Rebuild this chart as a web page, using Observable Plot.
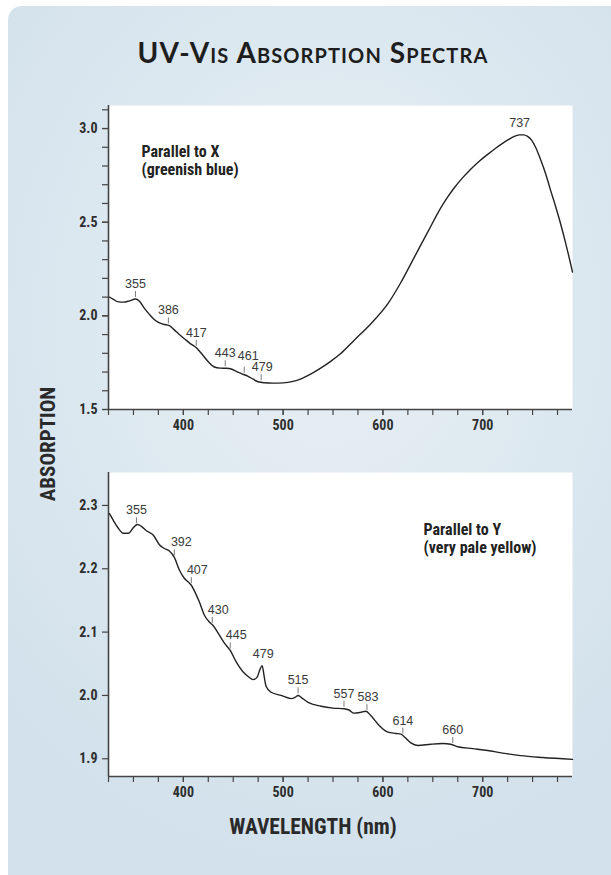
<!DOCTYPE html>
<html>
<head>
<meta charset="utf-8">
<script src="https://cdn.jsdelivr.net/npm/d3@7"></script>
<script src="https://cdn.jsdelivr.net/npm/@observablehq/plot@0.6"></script>
<style>
  html, body { margin: 0; padding: 0; background: #ffffff; overflow: hidden; width: 611px; height: 875px; }
  #bg { position: absolute; left: 8px; top: 6px; width: 640px; height: 900px; border-radius: 14px;
        background: radial-gradient(ellipse 70% 60% at 50% 35%, #e8eff4 0%, #dce8f0 55%, #d2e1eb 100%); }
  #title { position: absolute; left: 0; width: 626px; top: 35px; text-align: center;
           font-family: Lato, "Open Sans", sans-serif; font-variant: small-caps; font-size: 28px;
           font-weight: 700; color: #1e1e1e; letter-spacing: 1.1px; }
  .axlab { position: absolute; font-family: "Noto Sans Condensed", "Roboto Condensed", "Noto Sans", sans-serif;
           font-stretch: 75%; font-weight: bold; color: #2a2a2a; white-space: nowrap; }
  #xlab { left: 0; width: 626px; text-align: center; top: 814px; font-size: 21.5px; }
  #ylab { left: 48px; top: 444px; font-size: 21px; transform: translate(-50%, -50%) rotate(-90deg); }
  .panel { position: absolute; left: 0; }
  .panel svg .narrow text { font-stretch: 75%; }
</style>
</head>
<body>
<div id="bg"></div>
<div id="title">UV-Vis Absorption Spectra</div>
<div id="top" class="panel" style="top:90px"></div>
<div id="bottom" class="panel" style="top:457px"></div>
<div id="ylab" class="axlab">ABSORPTION</div>
<div id="xlab" class="axlab">WAVELENGTH (nm)</div>
<script>
// ---------- Data: parallel to X (greenish blue) ----------
const topNm  = [326,330,334,340,346,352,356,361,366,370,375,380,386,391,396,401,407,413,418,425,431,437,443,448,453,458,465,470,475,481,490,500,510,518,528,538,548,558,571,588,605,618,631,645,658,665,671,680,688,696,705,713,721,728,733,737,741,745,749,753,758,763,768,773,778,784,790];
const topAbs = [2.100,2.088,2.076,2.073,2.080,2.090,2.078,2.040,2.008,1.985,1.965,1.955,1.948,1.925,1.900,1.878,1.852,1.830,1.800,1.755,1.727,1.721,1.720,1.716,1.703,1.692,1.677,1.662,1.648,1.643,1.641,1.642,1.650,1.664,1.690,1.722,1.758,1.800,1.869,1.958,2.065,2.178,2.308,2.448,2.577,2.635,2.680,2.738,2.783,2.823,2.862,2.895,2.925,2.948,2.961,2.966,2.966,2.958,2.938,2.900,2.835,2.760,2.671,2.585,2.493,2.370,2.234];
const topPeakText = ["355","386","417","443","461","479","737"];
const topPeakNm   = [352,385,413,442,461,478,737];
const topLabelNm  = [352,385,413,442,465,479,737];
const topPeakTick = [true,true,true,true,true,true,false];

// ---------- Data: parallel to Y (very pale yellow) ----------
const botNm  = [326,330,334,340,345,350,354,358,363,370,376,381,386,391,396,401,405,408,412,416,421,426,430,435,441,447,453,460,465,470,474,477,479,481,483,488,498,508,512,515,518,525,538,550,561,566,571,577,583,588,596,605,613,618,622,628,635,648,660,668,675,690,705,720,738,760,790];
const botAbs = [2.287,2.276,2.266,2.256,2.256,2.265,2.270,2.267,2.260,2.253,2.238,2.232,2.228,2.218,2.198,2.185,2.179,2.174,2.162,2.148,2.127,2.116,2.110,2.098,2.083,2.071,2.053,2.037,2.030,2.025,2.029,2.042,2.047,2.030,2.014,2.005,2.000,1.995,1.997,2.000,1.997,1.989,1.983,1.980,1.979,1.977,1.972,1.973,1.975,1.968,1.953,1.942,1.940,1.939,1.934,1.925,1.921,1.923,1.924,1.923,1.919,1.916,1.913,1.909,1.905,1.902,1.899];
const botPeakText = ["355","392","407","430","445","479","515","557","583","614","660"];
const botPeakNm   = [353,391,408,429,447,479,515,561,584,620,670];
const botLabelNm  = [353,398,414,435,453,480,515,561,585,620,670];
const botPeakTick = [true,true,true,true,true,false,true,true,true,true,true];

// ---------- Axis ticks ----------
const xMajor = [400,500,600,700];
const xMinor = d3.range(325, 790, 25);
const topYMajor = [1.5,2.0,2.5,3.0];
const topYMinor = d3.range(15, 32).map(d => d / 10);
const botYMajor = [1.9,2.0,2.1,2.2,2.3];

const NARROW = "'Noto Sans Condensed', 'Roboto Condensed', 'Noto Sans', sans-serif";
const REG = "'Liberation Sans', Arial, Helvetica, sans-serif";

function series(nm, abs) { return nm.map((x, i) => ({nm: x, v: abs[i]})); }
function interp(s, x) {
  const i = d3.bisector(d => d.nm).left(s, x);
  if (i <= 0) return s[0].v;
  if (i >= s.length) return s[s.length - 1].v;
  const a = s[i - 1], b = s[i];
  return a.v + (x - a.nm) / (b.nm - a.nm) * (b.v - a.v);
}
function peaks(s, text, nm, labelNm, tick) {
  return text.map((t, i) => ({t, nm: nm[i], lx: labelNm[i], tick: tick[i], v: interp(s, nm[i])}));
}
const tickSymbol = { draw(ctx) { ctx.moveTo(0, -3); ctx.lineTo(0, 3); } };
const raised = new Set(["461"]);

function panel({s, pk, yDomain, yMajor, yMinor, label, ldx, ldy}) {
  const narrowText = {fontWeight: "bold", fontFamily: NARROW, className: "narrow"};
  const marks = [
    Plot.frame({fill: "white", stroke: null}),
  ];
  if (yMinor) marks.push(Plot.axisY({ticks: yMinor, tickSize: 6, tickFormat: () => "", label: null, stroke: "#444", strokeWidth: 1.2}));
  marks.push(
    Plot.axisY({ticks: yMajor, tickSize: 6, tickPadding: 5, tickFormat: d3.format(".1f"), label: null,
                stroke: "#444", strokeWidth: 1.2, fill: "#2e2e2e", fontSize: 14, ...narrowText}),
    Plot.axisX({ticks: xMinor, tickSize: 6, tickFormat: () => "", label: null, stroke: "#444", strokeWidth: 1.2}),
    Plot.axisX({ticks: xMajor, tickSize: 6, tickPadding: 5, label: null, stroke: "#444", strokeWidth: 1.2,
                fill: "#2e2e2e", fontSize: 14, ...narrowText}),
    Plot.ruleX([325], {stroke: "#444", strokeWidth: 1.6}),
    Plot.ruleY([yDomain[0]], {stroke: "#444", strokeWidth: 1.6}),
    Plot.line(s, {x: "nm", y: "v", curve: "monotone-x", stroke: "#222", strokeWidth: 1.4}),
    Plot.dot(pk.filter(d => d.tick), {x: "nm", y: "v", symbol: tickSymbol, r: 3, stroke: "#7a7a7a", strokeWidth: 1, fill: "none", dy: -5}),
    Plot.text(pk.filter(d => d.tick && !raised.has(d.t)), {x: "lx", y: "v", text: "t", dy: -15, fontSize: 12.5, fontFamily: REG, fill: "#3a3a3a"}),
    Plot.text(pk.filter(d => d.tick && raised.has(d.t)), {x: "lx", y: "v", text: "t", dy: -19, fontSize: 12.5, fontFamily: REG, fill: "#3a3a3a"}),
    Plot.text(pk.filter(d => !d.tick), {x: "lx", y: "v", text: "t", dy: -12, fontSize: 12.5, fontFamily: REG, fill: "#3a3a3a"}),
    Plot.text([label], {text: d => d, frameAnchor: "top-left", dx: ldx, dy: ldy, textAnchor: "start", lineAnchor: "top",
                        fontSize: 16, lineHeight: 1.15, fill: "#222", ...narrowText})
  );
  return Plot.plot({
    width: 611, height: 354,
    marginLeft: 108, marginRight: 39, marginTop: 15, marginBottom: 35,
    style: {background: "transparent", overflow: "visible", color: "#2e2e2e"},
    x: {domain: [325, 790]},
    y: {domain: yDomain},
    marks
  });
}

const sTop = series(topNm, topAbs);
const sBot = series(botNm, botAbs);

document.getElementById("top").append(panel({
  s: sTop, pk: peaks(sTop, topPeakText, topPeakNm, topLabelNm, topPeakTick),
  yDomain: [1.5, 3.123], yMajor: topYMajor, yMinor: topYMinor,
  label: "Parallel to X\n(greenish blue)", ldx: 33, ldy: 38
}));
document.getElementById("bottom").append(panel({
  s: sBot, pk: peaks(sBot, botPeakText, botPeakNm, botLabelNm, botPeakTick),
  yDomain: [1.872, 2.352], yMajor: botYMajor, yMinor: null,
  label: "Parallel to Y\n(very pale yellow)", ldx: 315, ldy: 49
}));
</script>
</body>
</html>
